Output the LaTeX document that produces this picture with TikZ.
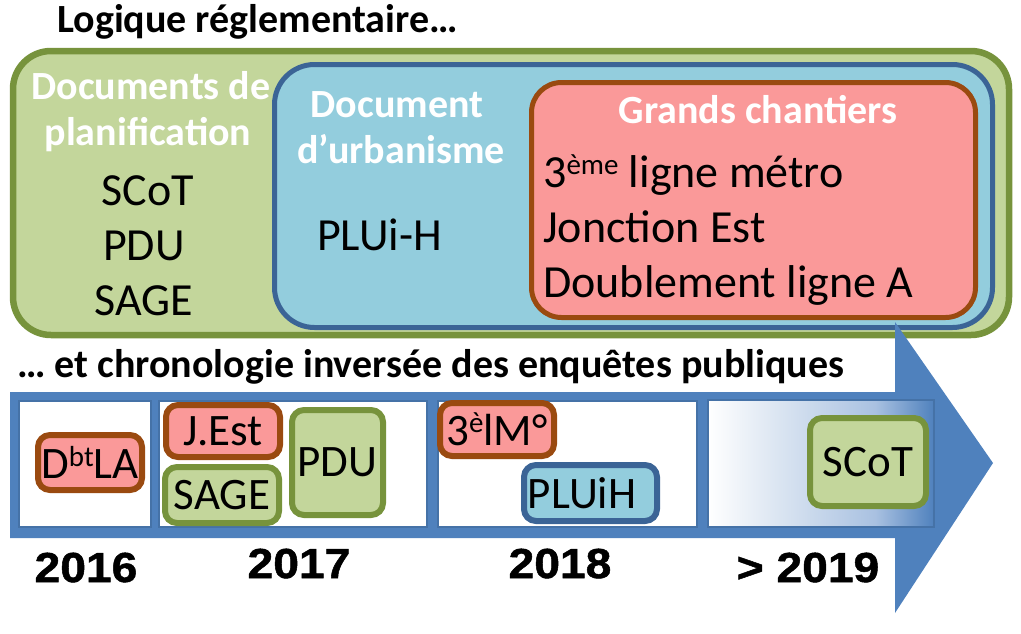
\documentclass[tikz,border=0pt]{standalone}
\usepackage{fontspec}
\setmainfont{Carlito}
\newfontfamily\yearfont[FakeStretch=1.1,FakeBold=1.2]{Liberation Sans}
\definecolor{gfill}{HTML}{C3D69B}
\definecolor{gdraw}{HTML}{77933C}
\definecolor{bfill}{HTML}{93CDDD}
\definecolor{bdraw}{HTML}{3B6496}
\definecolor{rfill}{HTML}{FA9999}
\definecolor{rdraw}{HTML}{9A4A10}
\definecolor{arrowblue}{HTML}{4F81BD}
\definecolor{paneldraw}{HTML}{4572A7}
\definecolor{shadeA}{HTML}{DCE6F2}
\definecolor{shadeB}{HTML}{A9C1E1}
\pgfdeclarehorizontalshading{panelshade}{100bp}{color(0bp)=(white); color(25bp)=(white); color(40bp)=(shadeA); color(62bp)=(shadeB); color(75bp)=(arrowblue); color(100bp)=(arrowblue)}
\newcommand\upx[1]{\raisebox{0.28em}{\fontsize{29}{29}\selectfont #1}}
\tikzset{
 bigtext/.style={font=\fontsize{46}{50}\selectfont, inner sep=0pt},
 headtext/.style={font=\fontsize{40}{44}\selectfont\bfseries, inner sep=0pt},
 tbox/.style={rounded corners=12pt, line width=6pt, inner sep=0pt, font=\fontsize{45}{50}\selectfont},
 redbox/.style={tbox, fill=rfill, draw=rdraw},
 greenbox/.style={tbox, fill=gfill, draw=gdraw},
 bluebox/.style={tbox, fill=bfill, draw=bdraw},
 panel/.style={fill=white, draw=paneldraw, line width=2.5pt},
 yeartext/.style={font=\yearfont\bfseries\fontsize{42}{46}\selectfont, inner sep=0pt, anchor=base},
}
\begin{document}
\begin{tikzpicture}[x=1pt,y=-1pt]
\useasboundingbox (0,0) rectangle (1021,633);
% title
\node[headtext, anchor=base west] (title) at (57,32) {Logique réglementaire…};
% containers
\draw[fill=gfill, draw=gdraw, line width=6.5pt, rounded corners=38pt] (13,51) rectangle (1009,335);
\draw[fill=bfill, draw=bdraw, line width=5pt, rounded corners=40pt] (274.5,64.5) rectangle (992.5,327.5);
\draw[fill=rfill, draw=rdraw, line width=5pt, rounded corners=30pt] (531.5,82.5) rectangle (975.5,317.5);
% container texts
\node[headtext, text=white, anchor=base] (dp1) at (151,99) {Documents de};
\node[headtext, text=white, anchor=base] (dp2) at (148,145) {planification};
\node[bigtext, anchor=base] (l1) at (148,205) {SCoT};
\node[bigtext, anchor=base] (l2) at (144,260) {PDU};
\node[bigtext, anchor=base] (l3) at (144,315) {SAGE};
\node[headtext, text=white, anchor=base] (du1) at (397,117) {Document};
\node[headtext, text=white, anchor=base] (du2) at (401,163) {d’urbanisme};
\node[bigtext, anchor=base west] (plu) at (317,250) {PLUi-H};
\node[headtext, text=white, anchor=base] (gc) at (758,123) {Grands chantiers};
\node[bigtext, anchor=base west] (r1) at (543,187) {3\upx{ème} ligne métro};
\node[bigtext, anchor=base west] (r2) at (543,242) {Jonction Est};
\node[bigtext, anchor=base west] (r3) at (543,297) {Doublement ligne A};
% subtitle
\node[headtext, anchor=base west] (sub) at (17,377) {… et chronologie inversée des enquêtes publiques};
% arrow
\fill[arrowblue] (10,392) -- (895,392) -- (895,322) -- (993,463) -- (895,613) -- (895,538) -- (10,538) -- cycle;
% panels
\draw[panel] (19,401) rectangle (151,527);
\draw[panel] (159,401) rectangle (427,527);
\draw[panel] (438,401) rectangle (697,527);
\shade[shading=panelshade] (708,400) rectangle (934,527);
\draw[draw=paneldraw, line width=2.5pt] (708,400) rectangle (934,527);
% event boxes
\node[redbox, minimum width=104pt, minimum height=55pt] (dbt) at (90,462.5) {D\upx{bt}LA};
\node[redbox, minimum width=114pt, minimum height=52pt] (jest) at (223,431) {J.Est};
\node[greenbox, minimum width=114pt, minimum height=56pt] (sage) at (222,495) {SAGE};
\node[greenbox, minimum width=91pt, minimum height=105pt] (pdu) at (337.5,462.5) {PDU};
\node[redbox, minimum width=114pt, minimum height=53pt] (metro) at (497,429.5) {3\upx{è}lM°};
\node[bluebox, minimum width=133pt, minimum height=56pt] (pluih) at (590.5,493) {PLUiH\hspace*{17pt}};
\node[greenbox, minimum width=116pt, minimum height=88pt] (scot) at (868,462) {SCoT};
% years
\node[yeartext] (y16) at (86,582) {2016};
\node[yeartext] (y17) at (299,578) {2017};
\node[yeartext] (y18) at (560,578) {2018};
\node[yeartext] (y19) at (808,582) {> 2019};
\end{tikzpicture}
\end{document}
